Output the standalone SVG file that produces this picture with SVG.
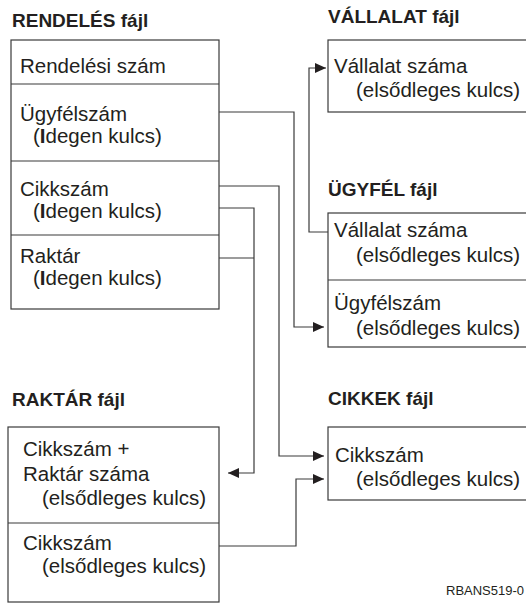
<svg xmlns="http://www.w3.org/2000/svg" width="526" height="603" viewBox="0 0 526 603">
<defs>
<style>
.t{font-family:"Liberation Sans",Arial,sans-serif;font-size:20.5px;fill:#231f20}
.h{font-family:"Liberation Sans",Arial,sans-serif;font-size:19px;font-weight:bold;fill:#231f20}
.s{font-family:"Liberation Sans",Arial,sans-serif;font-size:13px;fill:#231f20}
.b{fill:#fff;stroke:#3a3a3a;stroke-width:1.2}
.d{stroke:#3a3a3a;stroke-width:1.2;fill:none}
.c{stroke:#3a3a3a;stroke-width:1.2;fill:none}
.bi{font-weight:bold}
</style>
<marker id="arr" viewBox="0 0 11 10" refX="11" refY="5" markerWidth="11" markerHeight="10" markerUnits="userSpaceOnUse" orient="auto">
<path d="M0,0 L11,5 L0,10 Z" fill="#231f20"/>
</marker>
</defs>
<rect width="526" height="603" fill="#fff"/>

<g id="rendeles">
<text class="h" x="12" y="27">RENDELÉS fájl</text>
<rect class="b" x="11" y="40" width="208" height="269"/>
<line class="d" x1="11" y1="84" x2="219" y2="84"/>
<line class="d" x1="11" y1="161" x2="219" y2="161"/>
<line class="d" x1="11" y1="235" x2="219" y2="235"/>
<text class="t" x="20" y="73">Rendelési szám</text>
<text class="t" x="20" y="121">Ügyfélszám</text>
<text class="t" x="33" y="143">(<tspan class="bi">I</tspan>degen kulcs)</text>
<text class="t" x="20" y="196">Cikkszám</text>
<text class="t" x="33" y="218">(<tspan class="bi">I</tspan>degen kulcs)</text>
<text class="t" x="20" y="263">Raktár</text>
<text class="t" x="33" y="285">(<tspan class="bi">I</tspan>degen kulcs)</text>
</g>

<g id="vallalat">
<text class="h" x="328" y="23">VÁLLALAT fájl</text>
<rect class="b" x="328" y="40" width="210" height="72"/>
<text class="t" x="334" y="73">Vállalat száma</text>
<text class="t" x="356" y="97">(elsődleges kulcs)</text>
</g>

<g id="ugyfel">
<text class="h" x="328" y="196">ÜGYFÉL fájl</text>
<rect class="b" x="328" y="213" width="210" height="134"/>
<line class="d" x1="328" y1="280" x2="538" y2="280"/>
<text class="t" x="334" y="237">Vállalat száma</text>
<text class="t" x="356" y="262">(elsődleges kulcs)</text>
<text class="t" x="334" y="310">Ügyfélszám</text>
<text class="t" x="356" y="335">(elsődleges kulcs)</text>
</g>

<g id="raktar">
<text class="h" x="12" y="406">RAKTÁR fájl</text>
<rect class="b" x="8" y="427" width="211" height="175"/>
<line class="d" x1="8" y1="523" x2="219" y2="523"/>
<text class="t" x="23" y="456">Cikkszám +</text>
<text class="t" x="23" y="481">Raktár száma</text>
<text class="t" x="42" y="505">(elsődleges kulcs)</text>
<text class="t" x="23" y="550">Cikkszám</text>
<text class="t" x="42" y="573">(elsődleges kulcs)</text>
</g>

<g id="cikkek">
<text class="h" x="328" y="405">CIKKEK fájl</text>
<rect class="b" x="328" y="427" width="210" height="73"/>
<text class="t" x="335" y="462">Cikkszám</text>
<text class="t" x="356" y="486">(elsődleges kulcs)</text>
</g>

<g id="connectors">
<polyline class="c" points="219,112 294,112 294,327 324,327" marker-end="url(#arr)"/>
<polyline class="c" points="219,186 279,186 279,456 324,456" marker-end="url(#arr)"/>
<polyline class="c" points="219,208 254,208 254,473 228,473" marker-end="url(#arr)"/>
<line class="c" x1="219" y1="258" x2="254" y2="258"/>
<polyline class="c" points="328,232 309,232 309,68 326,68" marker-end="url(#arr)"/>
<polyline class="c" points="219,546 296,546 296,479 324,479" marker-end="url(#arr)"/>
</g>

<text class="s" x="446" y="595">RBANS519-0</text>
</svg>
